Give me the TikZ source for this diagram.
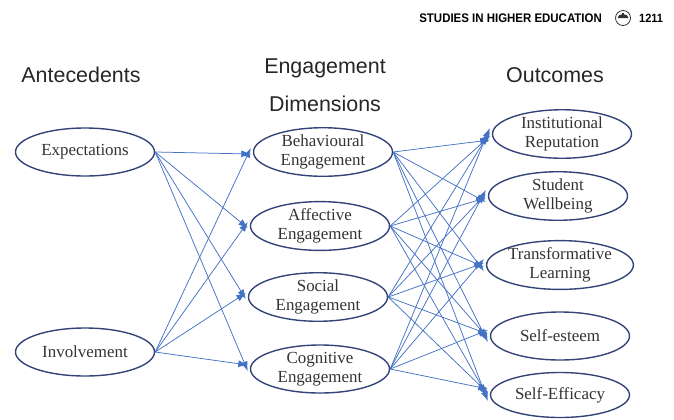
\documentclass[tikz,border=0pt]{standalone}
\usepackage{fontspec}
\setmainfont{Liberation Serif}
\newfontfamily\arialf{Liberation Sans}
\usetikzlibrary{shapes.geometric,arrows.meta}
\definecolor{ringblue}{RGB}{52,68,120}
\definecolor{edgeblue}{RGB}{68,114,196}
\tikzset{
  oval/.style={ellipse, draw=ringblue, line width=1.4bp, minimum width=139bp, minimum height=48bp, inner sep=0pt, align=center, font=\fontsize{17}{19}\selectfont, text=black!80},
  title/.style={font=\arialf\fontsize{21.5}{24}\selectfont, text=black!85},
  link/.style={draw=edgeblue, line width=0.75bp, -{Latex[length=9.5bp,width=7bp]}},
}
\begin{document}
\begin{tikzpicture}[x=1bp,y=-1bp]
\useasboundingbox (0,0) rectangle (674,419);
% header
\node[font=\arialf\bfseries\fontsize{12.5}{14}\selectfont, anchor=east, xscale=0.92, inner sep=0pt] (hdr) at (602,18) {STUDIES IN HIGHER EDUCATION};
\node[circle, draw=black!80, line width=0.8bp, minimum size=15bp, inner sep=0pt] (logo) at (623,18) {};
\fill[black!80] (617.5,18) arc (180:360:5.5 and 4) -- cycle;
\fill[black!80] (622,13) rectangle (624,18);
\node[font=\arialf\bfseries\fontsize{12}{14}\selectfont, anchor=west, xscale=0.92, inner sep=0pt] (pg) at (639,18) {1211};
% titles
\node[title] (t1) at (81,75) {Antecedents};
\node[title] (t2) at (325,68) {Engagement};
\node[title] (t3) at (325,104) {Dimensions};
\node[title] (t4) at (555,75) {Outcomes};
% nodes
\node[oval] (exp) at (85,152) {Expectations};
\node[oval] (inv) at (85,352) {Involvement};
\node[oval] (beh) at (323,152) {Behavioural\\Engagement};
\node[oval] (aff) at (320,226) {Affective\\Engagement};
\node[oval] (soc) at (318,297) {Social\\Engagement};
\node[oval] (cog) at (320,369) {Cognitive\\Engagement};
\node[oval] (inst) at (562,134) {Institutional\\Reputation};
\node[oval] (well) at (558,196) {Student\\Wellbeing};
\node[oval] (trans) at (560,265) {Transformative\\Learning};
\node[oval] (est) at (560,336) {Self-esteem};
\node[oval, minimum height=45bp] (eff) at (560,395) {Self-Efficacy};
% links
\foreach \a/\d in {exp/-2,inv/4}
  \foreach \b in {beh,aff,soc,cog}
    \draw[link] (\a.east) -- ([xshift=-2bp,yshift=\d bp]\b.west);
\foreach \a/\d in {beh/-6,aff/-2,soc/2,cog/6}
  \foreach \b in {inst,well,trans,est,eff}
    \draw[link] (\a.east) -- ([xshift=-2bp,yshift=\d bp]\b.west);
\end{tikzpicture}
\end{document}
